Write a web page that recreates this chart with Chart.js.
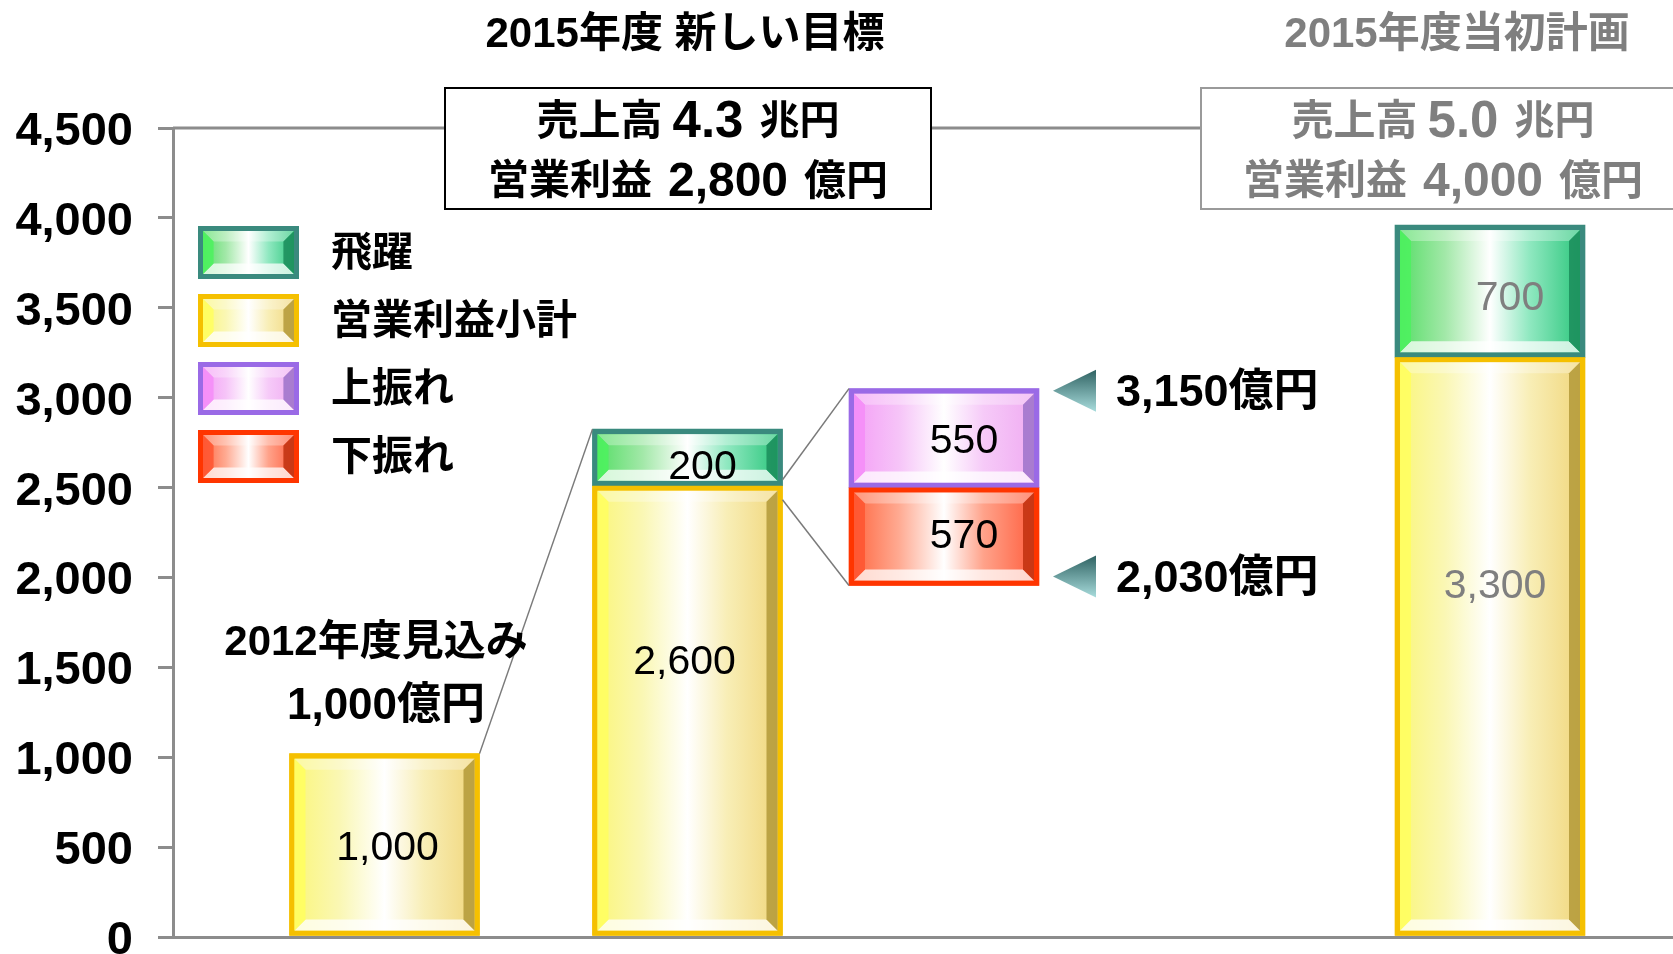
<!DOCTYPE html>
<html><head><meta charset="utf-8">
<script src="https://cdn.jsdelivr.net/npm/chart.js@4/dist/chart.umd.min.js"></script>
<style>html,body{margin:0;padding:0;background:#fff}#wrap{width:1673px;height:954px}</style>
</head><body><div id="wrap"><canvas id="c" width="1673" height="954"></canvas></div>
<script>
// ---------------- data ----------------
const categories = ['2012年度見込み', '2015年度 新しい目標', '振れ幅', '2015年度当初計画'];
const seriesNames = ['飛躍', '営業利益小計', '上振れ', '下振れ'];
// bar extents as drawn in the picture (億円)
const subtotalValues = [1020, 2510, null, 3225];
const leapValues     = [null, 315, null, 735];
const swingBase      = [null, null, 1955, null];
const downsideValues = [null, null, 545, null];
const upsideValues   = [null, null, 550, null];
// values printed on the picture
const subtotalPrinted = [1000, 2600, null, 3300];
const leapPrinted     = [null, 200, null, 700];
const upsidePrinted   = [null, null, 550, null];
const downsidePrinted = [null, null, 570, null];
const swingPrinted    = [3150, 2030];
const salesTarget     = ['4.3', '5.0'];
const profitTarget    = [2800, 4000];
const yTicks = [0, 500, 1000, 1500, 2000, 2500, 3000, 3500, 4000, 4500];

// ---------------- layout / style ----------------
const slotPos = [1.41, 3.43, 5.14, 8.78];
const FONT_STACK = '"Liberation Sans", Arial, "Noto Sans CJK JP", sans-serif';
const font = (size, bold = true) => (bold ? 'bold ' : '') + size + 'px ' + FONT_STACK;
const fmt = v => v.toLocaleString('en-US');
const GRAY = '#7f7f7f';
const palettes = {
  green:  {edge: '#3A8A7E', face: ['#58DE68', '#A2E8A8', '#FFFFFF', '#8FE8C0', '#2FC77E'], left: '#4CF25E', right: '#1B8C5A'},
  yellow: {edge: '#F5C000', face: ['#FAF67C', '#FAF7B4', '#FFFFFF', '#F8EEB6', '#F1D77E'], left: '#FFFF5E', right: '#B39938'},
  purple: {edge: '#9A6AE6', face: ['#F4A0F6', '#F6C4F8', '#FFFFFF', '#F6CAF8', '#F0ACF2'], left: '#F58CF8', right: '#9C73C9'},
  red:    {edge: '#FF3500', face: ['#FF6A44', '#FFAA92', '#FFFFFF', '#FFA28A', '#FF6040'], left: '#FF5530', right: '#BF300E'}
};
const faceStops = [0, 0.25, 0.5, 0.72, 1];
const labelNudge = {
  '飛躍': [null, [15, 10], null, [20, 8]],
  '営業利益小計': [[3, 4], [-3, -48], null, [5, -60]],
  '上振れ': [null, null, [20, 4], null],
  '下振れ': [null, null, [20, 0], null]
};

function poly(ctx, pts, fill) {
  ctx.beginPath(); ctx.moveTo(pts[0][0], pts[0][1]);
  for (let i = 1; i < pts.length; i++) ctx.lineTo(pts[i][0], pts[i][1]);
  ctx.closePath(); ctx.fillStyle = fill; ctx.fill();
}
function drawBevel(ctx, L, T, R, B, p) {
  const h = B - T; const e = Math.min(5, h / 6); const b = Math.min(11, h / 5);
  ctx.save();
  ctx.fillStyle = p.edge; ctx.fillRect(L, T, R - L, B - T);
  const l = L + e, t = T + e, r = R - e, bo = B - e;
  const g = ctx.createLinearGradient(l, 0, r, 0);
  p.face.forEach((c, i) => g.addColorStop(faceStops[i], c));
  ctx.fillStyle = g; ctx.fillRect(l, t, r - l, bo - t);
  poly(ctx, [[l, t], [r, t], [r - b, t + b], [l + b, t + b]], 'rgba(255,255,255,0.3)');
  poly(ctx, [[l, bo], [r, bo], [r - b, bo - b], [l + b, bo - b]], 'rgba(255,255,255,0.75)');
  ctx.globalAlpha = 0.85;
  poly(ctx, [[l, t], [l + b, t + b], [l + b, bo - b], [l, bo]], p.left);
  poly(ctx, [[r, t], [r - b, t + b], [r - b, bo - b], [r, bo]], p.right);
  ctx.restore();
}
function drawRuns(ctx, runs, cx, cy, color) {
  let total = 0;
  runs.forEach(r => { ctx.font = font(r.size); r.w = ctx.measureText(r.t).width; total += r.w + (r.gap || 0); });
  let x = cx - total / 2;
  ctx.fillStyle = color; ctx.textBaseline = 'middle'; ctx.textAlign = 'left';
  runs.forEach(r => { ctx.font = font(r.size); ctx.fillText(r.t, x, cy); x += r.w + (r.gap || 0); });
}

// ---------------- datasets built from arrays ----------------
function build(lows, highs, printed) {
  const out = [];
  slotPos.forEach((x, i) => {
    if (highs[i] == null) return;
    out.push({x, y: [lows[i], lows[i] + highs[i]], slot: i, printed: printed[i]});
  });
  return out;
}
const zeros = slotPos.map(() => 0);
const downTop = swingBase.map((b, i) => b == null ? null : b + downsideValues[i]);
const datasets = [
  {label: seriesNames[0], pal: 'green',  data: build(subtotalValues, leapValues, leapPrinted)},
  {label: seriesNames[1], pal: 'yellow', data: build(zeros, subtotalValues, subtotalPrinted)},
  {label: seriesNames[2], pal: 'purple', data: build(downTop, upsideValues, upsidePrinted)},
  {label: seriesNames[3], pal: 'red',    data: build(swingBase, downsideValues, downsidePrinted)}
].map(d => Object.assign(d, {backgroundColor: palettes[d.pal].edge, borderWidth: 0, grouped: false, barThickness: 190}));

function rectOf(el) {
  const p = el.getProps(['x', 'y', 'base', 'width'], true);
  return {L: p.x - p.width / 2, R: p.x + p.width / 2, T: Math.min(p.y, p.base), B: Math.max(p.y, p.base), cx: p.x};
}
function findRect(chart, dsIndex, slot) {
  const ds = chart.data.datasets[dsIndex];
  const i = ds.data.findIndex(d => d.slot === slot);
  return i < 0 ? null : rectOf(chart.getDatasetMeta(dsIndex).data[i]);
}

const decor = {
  id: 'decor',
  afterDatasetsDraw(chart) {
    const ctx = chart.ctx;
    chart.data.datasets.forEach((ds, di) => {
      const meta = chart.getDatasetMeta(di);
      meta.data.forEach(el => { const r = rectOf(el); drawBevel(ctx, r.L, r.T, r.R, r.B, palettes[ds.pal]); });
    });
    // connectors
    const b1 = findRect(chart, 1, 0), b2g = findRect(chart, 0, 1), b2y = findRect(chart, 1, 1);
    const up = findRect(chart, 2, 2), dn = findRect(chart, 3, 2);
    ctx.save(); ctx.strokeStyle = '#7a7a7a'; ctx.lineWidth = 1.5;
    const line = (a, b, c, d) => { ctx.beginPath(); ctx.moveTo(a, b); ctx.lineTo(c, d); ctx.stroke(); };
    line(b1.R, b1.T, b2g.L, b2g.T);
    line(b2g.R, b2g.B - 6, up.L, up.T);
    line(b2y.R, b2y.T + 14, dn.L, dn.B);
    ctx.restore();
    // value labels
    chart.data.datasets.forEach((ds, di) => {
      const meta = chart.getDatasetMeta(di);
      meta.data.forEach((el, i) => {
        const d = ds.data[i]; if (d.printed == null) return;
        const r = rectOf(el); const n = labelNudge[ds.label][d.slot] || [0, 0];
        ctx.save(); ctx.font = font(41, false); ctx.textAlign = 'center'; ctx.textBaseline = 'middle';
        ctx.fillStyle = d.slot === 3 ? GRAY : '#000';
        ctx.fillText(fmt(d.printed), r.cx + n[0], (r.T + r.B) / 2 + n[1]);
        ctx.restore();
      });
    });
  },
  afterDraw(chart) {
    const ctx = chart.ctx; const ca = chart.chartArea; const ys = chart.scales.y;
    const topY = ys.getPixelForValue(yTicks[yTicks.length - 1]);
    ctx.save();
    // top connector line between boxes
    ctx.strokeStyle = '#8c8c8c'; ctx.lineWidth = 3;
    ctx.beginPath(); ctx.moveTo(ca.left, topY); ctx.lineTo(1201, topY); ctx.stroke();
    // boxes
    const boxes = [{L: 445, R: 931, stroke: '#000', color: '#000', k: 0}, {L: 1201, R: 1685, stroke: '#9a9a9a', color: GRAY, k: 1}];
    boxes.forEach(b => {
      ctx.fillStyle = '#fff'; ctx.fillRect(b.L, 88, b.R - b.L, 121);
      ctx.strokeStyle = b.stroke; ctx.lineWidth = 2; ctx.strokeRect(b.L, 88, b.R - b.L, 121);
      const cx = (b.L + b.R) / 2;
      drawRuns(ctx, [{t: '売上高', size: 42, gap: 10}, {t: salesTarget[b.k], size: 51, gap: 16}, {t: '兆円', size: 40}], cx, 123, b.color);
      drawRuns(ctx, [{t: '営業利益', size: 41, gap: 16}, {t: fmt(profitTarget[b.k]), size: 48, gap: 16}, {t: '億円', size: 42}], cx, 183, b.color);
    });
    // titles
    ctx.textAlign = 'center'; ctx.textBaseline = 'middle';
    ctx.font = font(42); ctx.fillStyle = '#000'; ctx.fillText(categories[1], 685, 35);
    ctx.fillStyle = GRAY; ctx.fillText(categories[3], 1457, 35);
    // 2012 annotation
    ctx.fillStyle = '#000';
    ctx.font = font(42); ctx.fillText(categories[0], 376, 643);
    ctx.font = font(44); ctx.fillText(fmt(subtotalPrinted[0]) + '億円', 386, 707);
    // legend
    chart.data.datasets.forEach((ds, i) => {
      const top = 226 + i * 68;
      drawBevel(ctx, 198, top, 299, top + 53, palettes[ds.pal]);
      ctx.fillStyle = '#000'; ctx.font = font(41); ctx.textAlign = 'left'; ctx.textBaseline = 'middle';
      ctx.fillText(ds.label, 331, top + 29);
    });
    // swing markers
    const up = findRect(chart, 2, 2), dn = findRect(chart, 3, 2);
    [[up.T + 2, swingPrinted[0]], [dn.B - 9, swingPrinted[1]]].forEach(([y, v]) => {
      const g = ctx.createLinearGradient(0, y - 21, 0, y + 21);
      g.addColorStop(0, '#2F6262'); g.addColorStop(1, '#A8DCDC');
      poly(ctx, [[1053, y], [1096, y - 21], [1096, y + 21]], g);
      ctx.fillStyle = '#000'; ctx.font = font(45); ctx.textAlign = 'left'; ctx.textBaseline = 'middle';
      ctx.fillText(fmt(v) + '億円', 1116, y + 3);
    });
    ctx.restore();
  }
};

new Chart(document.getElementById('c'), {
  type: 'bar',
  data: {datasets},
  options: {
    responsive: false, animation: false, events: [],
    layout: {padding: {top: 128, bottom: 17, left: 0, right: 0}},
    plugins: {legend: {display: false}, tooltip: {enabled: false}},
    scales: {
      x: {type: 'linear', min: 0, max: 10, offset: false, ticks: {display: false}, grid: {display: false, offset: false},
          border: {display: true, color: '#8c8c8c', width: 3},
          afterFit(s) { s.height = 0; s.paddingLeft = 0; s.paddingRight = 0; }},
      y: {min: 0, max: 4500,
          afterBuildTicks(s) { s.ticks = yTicks.map(v => ({value: v})); },
          ticks: {font: {size: 47, weight: 'bold', family: FONT_STACK}, color: '#000', padding: 25, labelOffset: 4, callback: v => fmt(v)},
          grid: {drawOnChartArea: false, drawTicks: true, tickLength: 15, color: '#8c8c8c', lineWidth: 3},
          border: {display: true, color: '#8c8c8c', width: 3},
          afterFit(s) { s.width = 173; s.paddingTop = 0; s.paddingBottom = 0; }}
    }
  },
  plugins: [decor]
});
</script></body></html>
